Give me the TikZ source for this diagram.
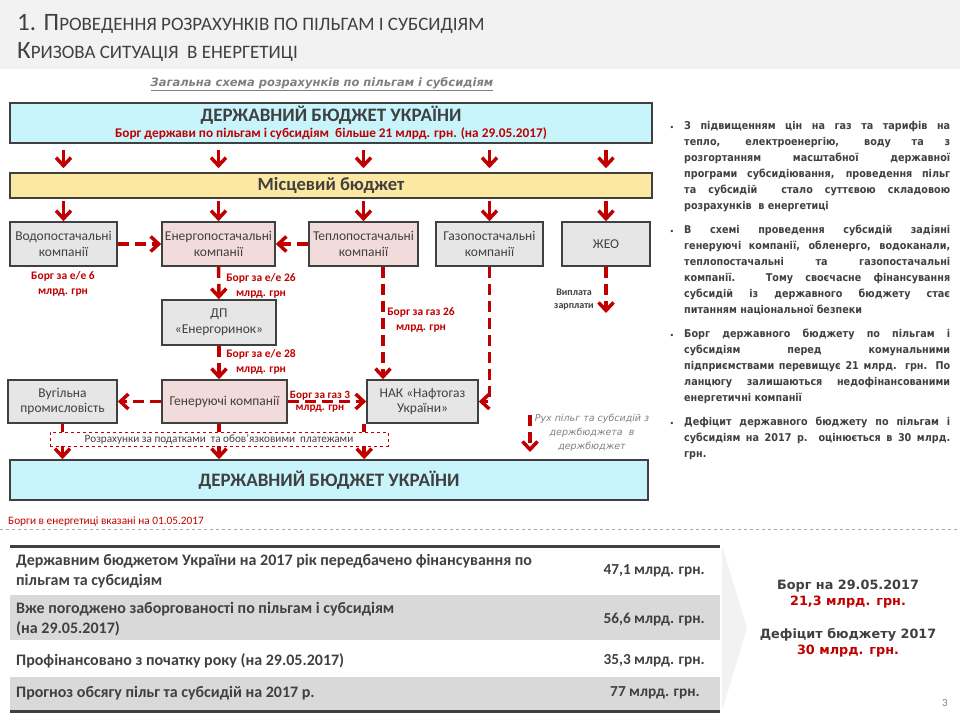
\documentclass[tikz,border=0pt]{standalone}
\usepackage{fontspec}
\setmainfont{Carlito}
\newfontfamily\tahoma{DejaVu Sans}
\newfontfamily\schmal{DejaVu Sans Condensed}
\usetikzlibrary{arrows.meta}
\definecolor{ink}{HTML}{404040}
\definecolor{rot}{HTML}{C00000}
\definecolor{himmel}{HTML}{C8F5FB}
\definecolor{sand}{HTML}{FCE8A0}
\definecolor{rosa}{HTML}{F2DCDB}
\definecolor{grau}{HTML}{E6E6E6}
\definecolor{band}{HTML}{F2F2F2}
\definecolor{zeile}{HTML}{D9D9D9}
\definecolor{muted}{HTML}{808080}
\newcommand{\fs}[2]{\fontsize{#1}{#2}\selectfont}
\newcommand{\kap}[2]{{\fs{25}{28}#1}{\fs{19}{28}#2}}
\newcommand{\vollzeile}[1]{\makebox[266pt][s]{#1}\\}
\tikzset{kasten/.style={draw=ink,line width=1.6pt,fill=grau,text=ink,align=center,
    inner sep=0pt,font=\fs{13.5}{15.5}},
  rosabox/.style={kasten,fill=rosa},
  pfeil/.style={rot,line width=3.5pt,-{Straight Barb[length=8pt,width=15pt]}},
  strich/.style={pfeil,dash pattern=on 11pt off 6pt},
  borg/.style={text=rot,font=\fs{11.5}{15}\bfseries,align=center,inner sep=0pt},
  punkt/.style={anchor=north west,inner sep=0pt,align=left,
    text=ink,font=\schmal\bfseries\fs{10.7}{16}},
  zeiletext/.style={anchor=west,inner sep=0pt,text=ink,font=\fs{16}{20}\bfseries,align=left},
  wert/.style={anchor=east,inner sep=0pt,text=ink,font=\fs{15.3}{20}\bfseries}}

\begin{document}
\begin{tikzpicture}[x=1pt,y=-1pt]
\useasboundingbox (0,0) rectangle (960,720);
\fill[band] (0,0) rectangle (960,69);
\node[anchor=base west,inner sep=0,text=ink] (titel) at (17,30) {\kap{1. П}{РОВЕДЕННЯ РОЗРАХУНКІВ ПО ПІЛЬГАМ І СУБСИДІЯМ}};
\node[anchor=base west,inner sep=0,text=ink] (untertitel) at (17,58) {\kap{К}{РИЗОВА СИТУАЦІЯ\ \ В ЕНЕРГЕТИЦІ}};
\node[inner sep=0,text=muted,font=\tahoma\bfseries\itshape\fs{11.5}{13}] (schema) at (322,84) {\underline{Загальна схема розрахунків по пільгам і субсидіям}};

\node[kasten,fill=himmel,minimum width=642,minimum height=40] (staat) at (331,123) {};
\node[inner sep=0,text=ink,font=\fs{19}{20}\bfseries] (staattitel) at (331,115) {ДЕРЖАВНИЙ БЮДЖЕТ УКРАЇНИ};
\node[inner sep=0,text=rot,font=\fs{13.3}{14}\bfseries] (staatborg) at (331,134) {Борг держави по пільгам і субсидіям\ \ більше 21 млрд. грн. (на 29.05.2017)};
\node[kasten,fill=sand,minimum width=642,minimum height=25,font=\fs{18.6}{20}\bfseries] (lokal) at (331,185.5) {Місцевий бюджет};

\node[kasten,minimum width=107,minimum height=44] (wasser) at (63.5,244) {Водопостачальні\\компанії};
\node[rosabox,minimum width=113,minimum height=44] (energie) at (218.5,244) {Енергопостачальні\\компанії};
\node[rosabox,minimum width=109,minimum height=44] (waerme) at (363.5,244) {Теплопостачальні\\компанії};
\node[kasten,minimum width=107,minimum height=44] (gas) at (489.5,244) {Газопостачальні\\компанії};
\node[kasten,minimum width=88,minimum height=44] (zheo) at (606,244) {ЖЕО};
\node[kasten,minimum width=114,minimum height=45] (dp) at (219,322.5) {ДП\\«Енергоринок»};
\node[kasten,minimum width=109,minimum height=43] (kohle) at (62.5,401.5) {Вугільна\\промисловість};
\node[rosabox,minimum width=125,minimum height=43] (gen) at (224.5,401.5) {Генеруючі компанії};
\node[kasten,minimum width=111,minimum height=43] (nak) at (422.5,401.5) {НАК «Нафтогаз\\України»};
\node[kasten,fill=himmel,minimum width=638,minimum height=40,font=\fs{19}{20}\bfseries] (staatunten) at (329,480) {ДЕРЖАВНИЙ БЮДЖЕТ УКРАЇНИ};
\coordinate (lohn) at (606,313);

\foreach \n in {wasser,energie,waerme,gas,zheo}{
  \draw[pfeil,shorten <=6pt,shorten >=4pt] (staat.south -| \n) -- (lokal.north -| \n);
  \draw[pfeil,shorten <=2pt] (lokal.south -| \n) -- (\n);
}
\draw[strich] (wasser) -- (energie);
\draw[strich] (waerme) -- (energie);
\draw[strich] (energie) -- (dp);
\draw[strich] (dp) -- (dp |- gen.north);
\draw[strich] ([xshift=19.5pt]waerme.south) -- ([xshift=19.5pt]waerme.south |- nak.north);
\draw[strich] (gas) |- (nak);
\draw[strich] (zheo) -- (lohn);
\draw[strich] (gen) -- (kohle);
\draw[strich] (gen) -- (nak);
\draw[pfeil] (kohle) -- (kohle |- staatunten.north);
\draw[pfeil] (dp |- gen.south) -- (dp |- staatunten.north);
\draw[pfeil] ([xshift=-2pt]nak.south west) -- ([xshift=-2pt]nak.south west |- staatunten.north);
\node[draw=rot,dashed,line width=0.7pt,fill=white,minimum width=338,minimum height=14,inner sep=0,text=ink,font=\fs{11.2}{12}] (steuern) at (219,439) {Розрахунки\ за податками\ \ та обов'язковими\ \ платежами};

\node[borg] (borg6) at (63,284) {Борг за е/е 6\\млрд. грн};
\node[borg] (borg26) at (261,286) {Борг за е/е 26\\млрд. грн};
\node[borg] (borg28) at (261,362) {Борг за е/е 28\\млрд. грн};
\node[borg] (borggas26) at (421,320) {Борг за газ 26\\млрд. грн};
\node[borg,font=\fs{11.2}{12}\bfseries] (borggas3) at (320,402) {Борг за газ 3\\млрд. грн};
\node[borg,text=ink,font=\fs{10}{13}\bfseries] (lohntext) at (574,300) {Виплата\\зарплати};

\coordinate (legoben) at (530,415);
\coordinate (legunten) at (530,452);
\draw[strich] (legoben) -- (legunten);
\node[inner sep=0,text=muted,font=\tahoma\itshape\fs{9.5}{14},align=center] (legende) at (592,433) {Рух пільг та субсидій з\\держбюджета\ \ в\\держбюджет};

\foreach \y in {128,232,336,424}
  \node[inner sep=0,text=ink,font=\tahoma\fs{8}{10}] (pkt\y) at (672,\y) {•};
\node[punkt] (text1) at (684,121) {\vollzeile{З підвищенням цін на газ та тарифів на}
  \vollzeile{тепло, електроенергію, воду та з}
  \vollzeile{розгортанням масштабної державної}
  \vollzeile{програми субсидіювання, проведення пільг}
  \vollzeile{та субсидій\ \ стало суттєвою складовою}
  розрахунків\ \ в енергетиці};
\node[punkt] (text2) at (684,225) {\vollzeile{В схемі проведення субсидій задіяні}
  \vollzeile{генеруючі компанії, обленерго, водоканали,}
  \vollzeile{теплопостачальні та газопостачальні}
  \vollzeile{компанії. Тому своєчасне фінансування}
  \vollzeile{субсидій із державного бюджету стає}
  питанням національної безпеки};
\node[punkt] (text3) at (684,329) {\vollzeile{Борг державного бюджету по пільгам і}
  \vollzeile{субсидіям перед комунальними}
  \vollzeile{підприємствами перевищує 21 млрд. грн. По}
  \vollzeile{ланцюгу залишаються недофінансованими}
  енергетичні компанії};
\node[punkt] (text4) at (684,417) {\vollzeile{Дефіцит державного бюджету по пільгам і}
  \vollzeile{субсидіям на 2017 р. оцінюється в 30 млрд.}
  грн.};

\node[anchor=base west,inner sep=0,text=rot,font=\fs{11.3}{12}] (hinweis) at (8,524) {Борги в енергетиці\ вказані на 01.05.2017};
\draw[muted!70,dashed,line width=0.6pt] (0,529) -- (960,529);

\fill[band] (722,546) -- (747,628) -- (722,711) -- cycle;
\fill[zeile] (10,595) rectangle (720,640);
\fill[zeile] (10,677) rectangle (720,710);
\draw[ink,line width=3pt] (10,546) -- (720,546);
\draw[ink,line width=3pt] (10,711) -- (720,711);
\node[zeiletext] (z1) at (16,571) {Державним бюджетом України на 2017 рік передбачено фінансування по\\пільгам та субсидіям};
\node[wert] (w1) at (705,571) {47,1 млрд. грн.};
\node[zeiletext] (z2) at (16,619) {Вже погоджено заборгованості по пільгам і субсидіям\\(на 29.05.2017)};
\node[wert] (w2) at (705,620) {56,6 млрд. грн.};
\node[zeiletext] (z3) at (16,661) {Профінансовано з початку року (на 29.05.2017)};
\node[wert] (w3) at (705,661) {35,3 млрд. грн.};
\node[zeiletext] (z4) at (16,693) {Прогноз обсягу пільг та субсидій на 2017 р.};
\node[wert] (w4) at (700,693) {77 млрд. грн.};

\node[inner sep=0,text=ink,font=\tahoma\bfseries\fs{12.8}{16},align=center] (fazit) at (848,619) {Борг на 29.05.2017\\\textcolor{rot}{21,3 млрд. грн.}\\[17pt]Дефіцит бюджету 2017\\\textcolor{rot}{30 млрд. грн.}};
\node[inner sep=0,text=muted,font=\fs{11}{12}] (seite) at (945,703) {3};
\end{tikzpicture}
\end{document}
